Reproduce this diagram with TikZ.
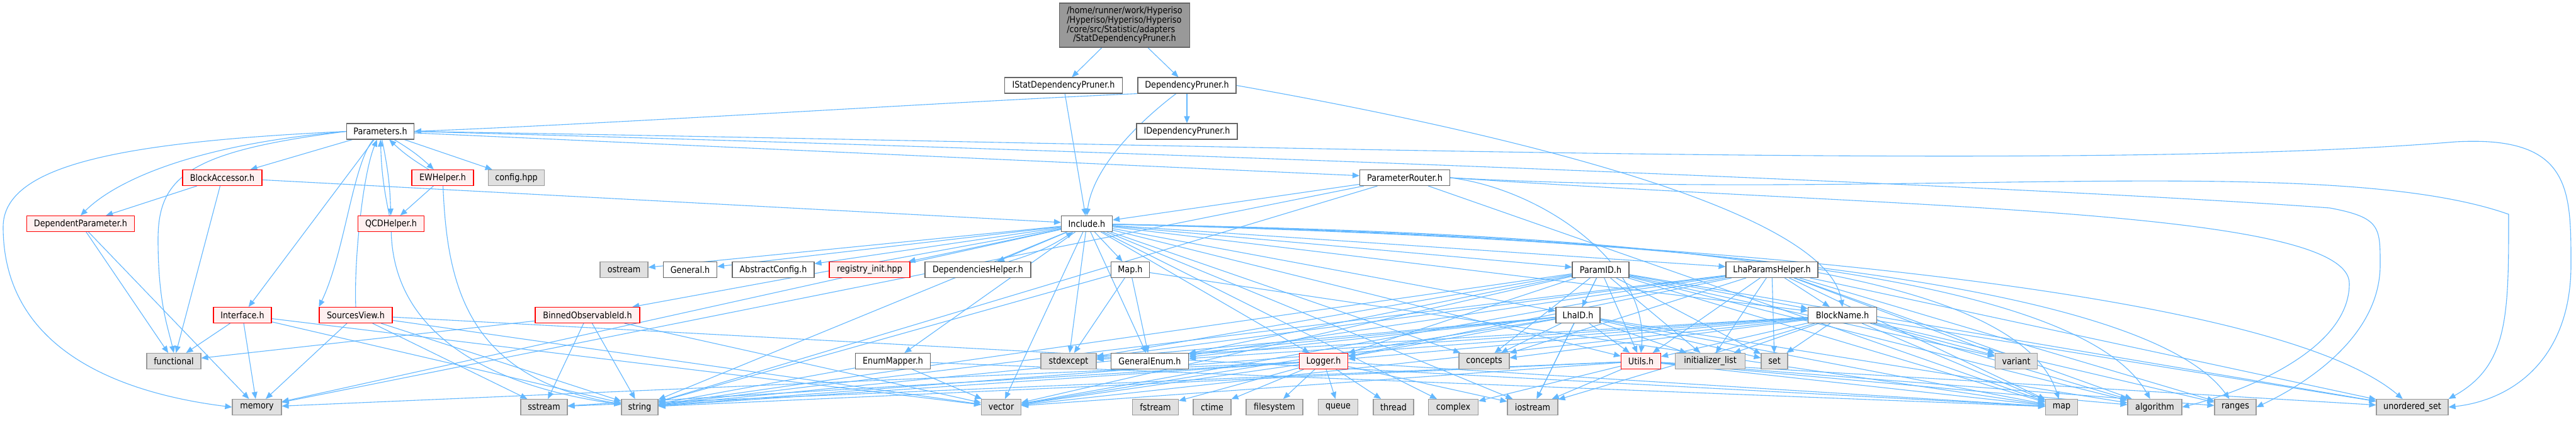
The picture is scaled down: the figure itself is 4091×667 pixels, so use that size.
\documentclass[tikz,border=0pt]{standalone}
\usepackage{fontspec}
\setmainfont{DejaVu Sans}[FakeStretch=0.88]
\usetikzlibrary{arrows.meta}
\definecolor{edgec}{HTML}{63B8FF}
\definecolor{ndgrey}{HTML}{666666}
\definecolor{sysdraw}{HTML}{999999}
\definecolor{sysfill}{HTML}{E0E0E0}
\definecolor{redfill}{HTML}{FFF0F0}
\definecolor{rootfill}{HTML}{999999}
\pgfdeclarelayer{bgl}
\pgfdeclarelayer{edges}
\pgfsetlayers{bgl,edges,main}
\tikzset{
  nd/.style={draw=ndgrey, fill=white, line width=1.1pt, minimum height=25pt, inner sep=0pt, font=\fontsize{14.5}{15}\selectfont},
  sysnd/.style={nd, draw=sysdraw, fill=sysfill},
  rednd/.style={nd, draw=red, fill=redfill},
  rootnd/.style={nd, fill=rootfill, draw=ndgrey, minimum height=70pt},
  e/.style={draw=edgec, line width=1.1pt, -{Triangle[length=11pt,width=9pt]}},
}
\begin{document}
\begin{tikzpicture}[x=1pt,y=1pt]
\begin{pgfonlayer}{bgl}
\fill[white] (0,0) rectangle (4091,-667);
\end{pgfonlayer}
\useasboundingbox (0,0) rectangle (4091,-667);
% row 0-3
\node[rootnd, minimum width=207pt] (root) at (1786,-40) {\renewcommand{\arraystretch}{0.78}\begin{tabular}{@{}l@{}}/home/runner/work/Hyperiso\\/Hyperiso/Hyperiso/Hyperiso\\/core/src/Statistic/adapters\\\multicolumn{1}{@{}c@{}}{/StatDependencyPruner.h}\end{tabular}};
\node[nd, minimum width=187pt] (istat) at (1689,-135.5) {IStatDependencyPruner.h};
\node[nd, minimum width=156pt] (dp) at (1885,-135.5) {DependencyPruner.h};
\node[nd, minimum width=160pt] (idp) at (1885,-208.5) {IDependencyPruner.h};
\node[nd, minimum width=107pt] (par) at (604,-208.5) {Parameters.h};
\node[rednd, minimum width=126pt] (ba) at (353,-282) {BlockAccessor.h};
\node[rednd, minimum width=98pt] (ew) at (703,-282) {EWHelper.h};
\node[sysnd, minimum width=89pt] (cfg) at (820,-282) {config.hpp};
\node[nd, minimum width=143pt] (pr) at (2231,-282) {ParameterRouter.h};
% row 4
\node[rednd, minimum width=171pt] (dpar) at (128,-355) {DependentParameter.h};
\node[rednd, minimum width=105pt] (qcd) at (621,-355) {QCDHelper.h};
\node[nd, minimum width=81pt] (inc) at (1726,-355) {Include.h};
% row 5
\node[sysnd, minimum width=76pt] (ostr) at (991,-428) {ostream};
\node[nd, minimum width=85pt] (gen) at (1096,-428) {General.h};
\node[nd, minimum width=130pt] (acfg) at (1228,-428) {AbstractConfig.h};
\node[rednd, minimum width=128pt] (reg) at (1381,-428) {registry\_init.hpp};
\node[nd, minimum width=168pt] (dh) at (1553,-428) {DependenciesHelper.h};
\node[nd, minimum width=61pt] (maph) at (1795,-428) {Map.h};
\node[nd, minimum width=90pt] (pid) at (2542,-428) {ParamID.h};
\node[nd, minimum width=146pt] (lph) at (2814,-428) {LhaParamsHelper.h};
% row 6
\node[rednd, minimum width=92pt] (intf) at (385,-500) {Interface.h};
\node[rednd, minimum width=116pt] (sv) at (565,-500) {SourcesView.h};
\node[rednd, minimum width=166pt] (bobs) at (933,-500) {BinnedObservableId.h};
\node[nd, minimum width=70pt] (lid) at (2506,-500) {LhaID.h};
\node[nd, minimum width=109pt] (bn) at (2926,-500) {BlockName.h};
% row 7
\node[sysnd, minimum width=86pt] (func) at (276,-573) {functional};
\node[nd, minimum width=119pt] (enumm) at (1418,-573) {EnumMapper.h};
\node[sysnd, minimum width=88pt] (stdx) at (1697,-573) {stdexcept};
\node[nd, minimum width=123pt] (genum) at (1826,-573) {GeneralEnum.h};
\node[rednd, minimum width=77pt] (logr) at (2102,-573) {Logger.h};
\node[sysnd, minimum width=80pt] (conc) at (2357,-573) {concepts};
\node[rednd, minimum width=63pt] (utils) at (2606,-573) {Utils.h};
\node[sysnd, minimum width=111pt] (initl) at (2716,-573) {initializer\_list};
\node[sysnd, minimum width=42pt] (set) at (2818,-573) {set};
\node[sysnd, minimum width=67pt] (var) at (3202,-573) {variant};
% row 8
\node[sysnd, minimum width=78pt] (mem) at (408,-646) {memory};
\node[sysnd, minimum width=74pt] (sstr) at (864,-646) {sstream};
\node[sysnd, minimum width=58pt] (str) at (1016,-646) {string};
\node[sysnd, minimum width=63pt] (vec) at (1590,-646) {vector};
\node[sysnd, minimum width=73pt] (fstr) at (1835,-646) {fstream};
\node[sysnd, minimum width=60pt] (ctime) at (1925,-646) {ctime};
\node[sysnd, minimum width=90pt] (fsys) at (2024,-646) {filesystem};
\node[sysnd, minimum width=63pt] (queue) at (2125,-646) {queue};
\node[sysnd, minimum width=64pt] (thread) at (2213,-646) {thread};
\node[sysnd, minimum width=79pt] (cplx) at (2308,-646) {complex};
\node[sysnd, minimum width=80pt] (iostr) at (2434,-646) {iostream};
\node[sysnd, minimum width=51pt] (map) at (3274,-646) {map};
\node[sysnd, minimum width=86pt] (algo) at (3422,-646) {algorithm};
\node[sysnd, minimum width=66pt] (rng) at (3550,-646) {ranges};
\node[sysnd, minimum width=114pt] (uset) at (3831,-646) {unordered\_set};

\begin{pgfonlayer}{edges}
\foreach \s/\t in {root/istat, root/dp, istat/inc, dp/idp,
  par/ba, par/cfg, par/intf, par/pr,
  sv/mem, sv/sstr, sv/str, sv/vec, sv/map,
  intf/func, intf/mem, intf/str, intf/vec,
  ba/dpar, ba/func, ba/inc, dpar/func, dpar/mem,
  pr/inc, pr/mem, pr/str, pr/map,
  inc/ostr, inc/gen, inc/acfg, inc/reg, inc/dh, inc/bobs, inc/maph, inc/enumm, inc/genum, inc/logr, inc/stdx, inc/str, inc/vec, inc/mem, inc/pid, inc/lph, inc/lid, inc/bn, inc/utils, inc/conc, inc/cplx, inc/iostr,
  bobs/func, bobs/sstr, bobs/str, bobs/vec,
  maph/genum, maph/str, maph/stdx, maph/map,
  enumm/str, enumm/vec, enumm/map,
  logr/str, logr/vec, logr/sstr, logr/fstr, logr/ctime, logr/fsys, logr/queue, logr/thread, logr/iostr, logr/map, logr/mem,
  pid/lid, pid/bn, pid/utils, pid/initl, pid/set, pid/conc, pid/genum, pid/logr, pid/stdx, pid/str, pid/vec, pid/map, pid/uset, pid/var, pid/algo, pid/iostr,
  lid/utils, lid/initl, lid/set, lid/iostr, lid/genum, lid/logr, lid/stdx, lid/str, lid/vec, lid/map, lid/algo, lid/conc,
  lph/bn, lph/utils, lph/initl, lph/set, lph/var, lph/map, lph/uset, lph/rng, lph/algo, lph/str, lph/vec, lph/logr, lph/conc, lph/genum, lph/stdx,
  bn/utils, bn/initl, bn/set, bn/var, bn/iostr, bn/map, bn/algo, bn/rng, bn/uset, bn/str, bn/vec, bn/genum, bn/logr, bn/conc, bn/stdx,
  utils/iostr, utils/cplx, utils/map, utils/algo, utils/rng, utils/uset, utils/str, utils/vec, utils/sstr}
  \draw[e] (\s) -- (\t);
% back edges and pairs
\draw[e] (par) to[bend left=6] (ew);
\draw[e] (ew) to[bend left=6] (par);
\draw[e] (par) to[bend left=5] (qcd);
\draw[e] (qcd) to[bend left=5] (par);
\draw[e] (par) .. controls (560,-260) and (548,-400) .. (sv.north west);
\draw[e] (sv.north) .. controls (562,-420) and (575,-280) .. (par);
\draw[e] (dh) to[bend right=8] (inc);
\draw[e] (ew) .. controls (710,-450) and (740,-600) .. (str);
\draw[e] (ew) -- (qcd);
\draw[e] (qcd) .. controls (625,-520) and (760,-610) .. (str);
% curved edges
\draw[e] (dp.south west) .. controls (1500,-162) and (1000,-195) .. (par.east);
\draw[e] (dp) .. controls (1800,-200) and (1735,-270) .. (inc.north);
\draw[e] (dp.east) .. controls (2300,-195) and (2900,-320) .. (bn.north);
\draw[e] (pr.east) .. controls (2450,-300) and (2620,-420) .. (utils.north);
\draw[e] (par.west) .. controls (200,-225) and (5,-260) .. (5,-360) .. controls (5,-560) and (200,-625) .. (mem.west);
\draw[e] (par.west) .. controls (300,-230) and (180,-290) .. (dpar.north);
\draw[e] (par.west) .. controls (300,-240) and (251,-280) .. (251,-380) .. controls (251,-480) and (267,-520) .. (func.north);
\draw[e] (par.east) .. controls (2000,-230) and (3300,-275) .. (3900,-225) .. controls (4083,-215) and (4083,-300) .. (4083,-420) .. controls (4083,-570) and (3990,-635) .. (uset.east);
\draw[e] (par.east) .. controls (2000,-245) and (3300,-300) .. (3700,-330) .. controls (3780,-345) and (3780,-360) .. (3780,-420) .. controls (3780,-540) and (3650,-615) .. (rng.east);
\draw[e] (pr.east) .. controls (3000,-320) and (3700,-240) .. (3984,-340) .. controls (3984,-500) and (3984,-580) .. (uset.north east);
\draw[e] (pr.east) .. controls (3000,-330) and (3731,-330) .. (3731,-450) .. controls (3731,-560) and (3550,-625) .. (algo.east);
\draw[e] (inc) .. controls (2600,-370) and (3200,-420) .. (map);
\draw[e] (inc) .. controls (2600,-372) and (3300,-430) .. (algo);
\draw[e] (inc) .. controls (2600,-374) and (3400,-440) .. (rng);
\draw[e] (inc) .. controls (2600,-376) and (3600,-450) .. (uset);
\end{pgfonlayer}
\end{tikzpicture}
\end{document}
